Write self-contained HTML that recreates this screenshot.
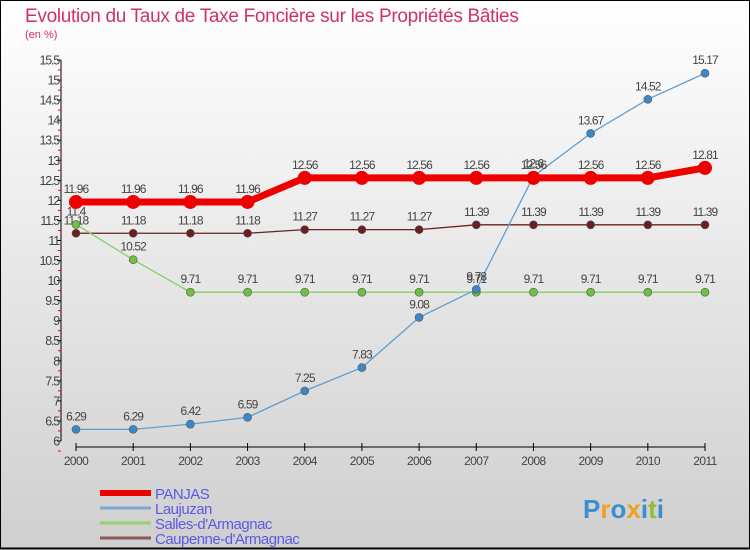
<!DOCTYPE html>
<html><head><meta charset="utf-8"><style>
body{margin:0;width:750px;height:550px;overflow:hidden;font-family:"Liberation Sans",sans-serif}
svg{display:block}
</style></head><body>
<svg id="c" width="750" height="550" xmlns="http://www.w3.org/2000/svg">
<defs><linearGradient id="bg" x1="0" y1="0" x2="0" y2="1"><stop offset="0" stop-color="#ffffff"/><stop offset="1" stop-color="#cfcfcf"/></linearGradient></defs>
<rect x="0.5" y="0.5" width="749" height="548" fill="url(#bg)" stroke="#000"/>
<line x1="0" y1="548.5" x2="750" y2="548.5" stroke="#000" stroke-width="2"/>
<text x="25" y="22" font-size="19" fill="#d0306a" letter-spacing="-0.3">Evolution du Taux de Taxe Foncière sur les Propriétés Bâties</text>
<text x="25" y="38" font-size="11" fill="#d0306a">(en %)</text>
<g id="axes"></g><g id="series"></g><g id="legend"></g>
<text x="583" y="518" font-size="26" font-weight="bold" fill="#3a8fd0"><tspan fill="#3a8fd0">P</tspan><tspan fill="#f0a020">r</tspan><tspan fill="#3a8fd0">o</tspan><tspan fill="#f0a020">x</tspan><tspan fill="#3a8fd0">i</tspan><tspan fill="#90c030">t</tspan><tspan fill="#3a8fd0">i</tspan></text>
</svg>
<script>
const years=[2000,2001,2002,2003,2004,2005,2006,2007,2008,2009,2010,2011];
const panjas=[11.96,11.96,11.96,11.96,12.56,12.56,12.56,12.56,12.56,12.56,12.56,12.81];
const laujuzan=[6.29,6.29,6.42,6.59,7.25,7.83,9.08,9.78,12.6,13.67,14.52,15.17];
const salles=[11.4,10.52,9.71,9.71,9.71,9.71,9.71,9.71,9.71,9.71,9.71,9.71];
const caupenne=[11.18,11.18,11.18,11.18,11.27,11.27,11.27,11.39,11.39,11.39,11.39,11.39];
const yTicks=[6,6.5,7,7.5,8,8.5,9,9.5,10,10.5,11,11.5,12,12.5,13,13.5,14,14.5,15,15.5];
const names=["PANJAS","Laujuzan","Salles-d'Armagnac","Caupenne-d'Armagnac"];
const NS="http://www.w3.org/2000/svg";
const X=i=>76+i*(705-76)/(years.length-1);
const Y=v=>441-(v-6)*(381/9.5);
function mk(t,a,p){const e=document.createElementNS(NS,t);for(const k in a)e.setAttribute(k,a[k]);p.appendChild(e);return e;}
const ax=document.getElementById('axes');
const yl=mk('line',{x1:61,y1:Y(15.5),x2:61,y2:Y(6),stroke:'#000'},ax);


yTicks.forEach(v=>{
 mk('line',{x1:57,y1:Y(v),x2:61,y2:Y(v),stroke:'#000'},ax);
 mk('line',{x1:58,y1:Y(v)+10,x2:61,y2:Y(v)+10,stroke:'#e00'},ax);
 const t=mk('text',{x:59,y:Y(v)+4.5,'font-size':12.5,'text-anchor':'end',fill:'#444','letter-spacing':'-1.2'},ax);
 t.textContent=v;
 
 
});
const xl=mk('line',{x1:X(0),y1:447,x2:X(11),y2:447,stroke:'#000'},ax);


years.forEach((y,i)=>{
 mk('line',{x1:X(i),y1:443,x2:X(i),y2:451,stroke:'#000'},ax);
 const t=mk('text',{x:X(i),y:465,'font-size':12,'text-anchor':'middle',fill:'#444','letter-spacing':'-0.6'},ax);
 t.textContent=y;
 
 
});
const sg=document.getElementById('series');
const defs=[[caupenne,'#6b2020','#6b2020',1.3,4,'caupenne'],[salles,'#88d060','#70c040',1.3,4,'salles'],[laujuzan,'#5f9fd0','#3a88c8',1.3,4,'laujuzan'],[panjas,'#ee0000','#ee0000',7,7,'panjas']];
defs.forEach(([d,lc,pc,w,r,n])=>{
 const g=mk('g',{},sg);
 
 
 const l=mk('polyline',{points:d.map((v,i)=>X(i)+','+Y(v)).join(' '),fill:'none',stroke:lc,'stroke-width':w},g);
 
 
 d.forEach((v,i)=>{
  const c=mk('circle',{cx:X(i),cy:Y(v),r:r,fill:pc,stroke:r>5?'none':'#555','stroke-width':0.6},g);
  
  
  const t=mk('text',{x:X(i),y:Y(v)-9,'font-size':12,'text-anchor':'middle',fill:'#444','letter-spacing':'-0.9'},g);
  t.textContent=v;
  
  
 });
});
const lg=document.getElementById('legend');
const lcols=['#ee0000','#7aa8d0','#99d070','#8a5a5a'],lw=[6,3,3,3];
names.forEach((n,i)=>{
 const y=493+i*15;
 const g=mk('g',{},lg);
 
 
 mk('line',{x1:100,y1:y,x2:151,y2:y,stroke:lcols[i],'stroke-width':lw[i]},g);
 const t=mk('text',{x:155,y:y+6,'font-size':15,fill:'#5a5ae8','letter-spacing':'-0.5'},g);
 t.textContent=n;
});
</script>
</body></html>
